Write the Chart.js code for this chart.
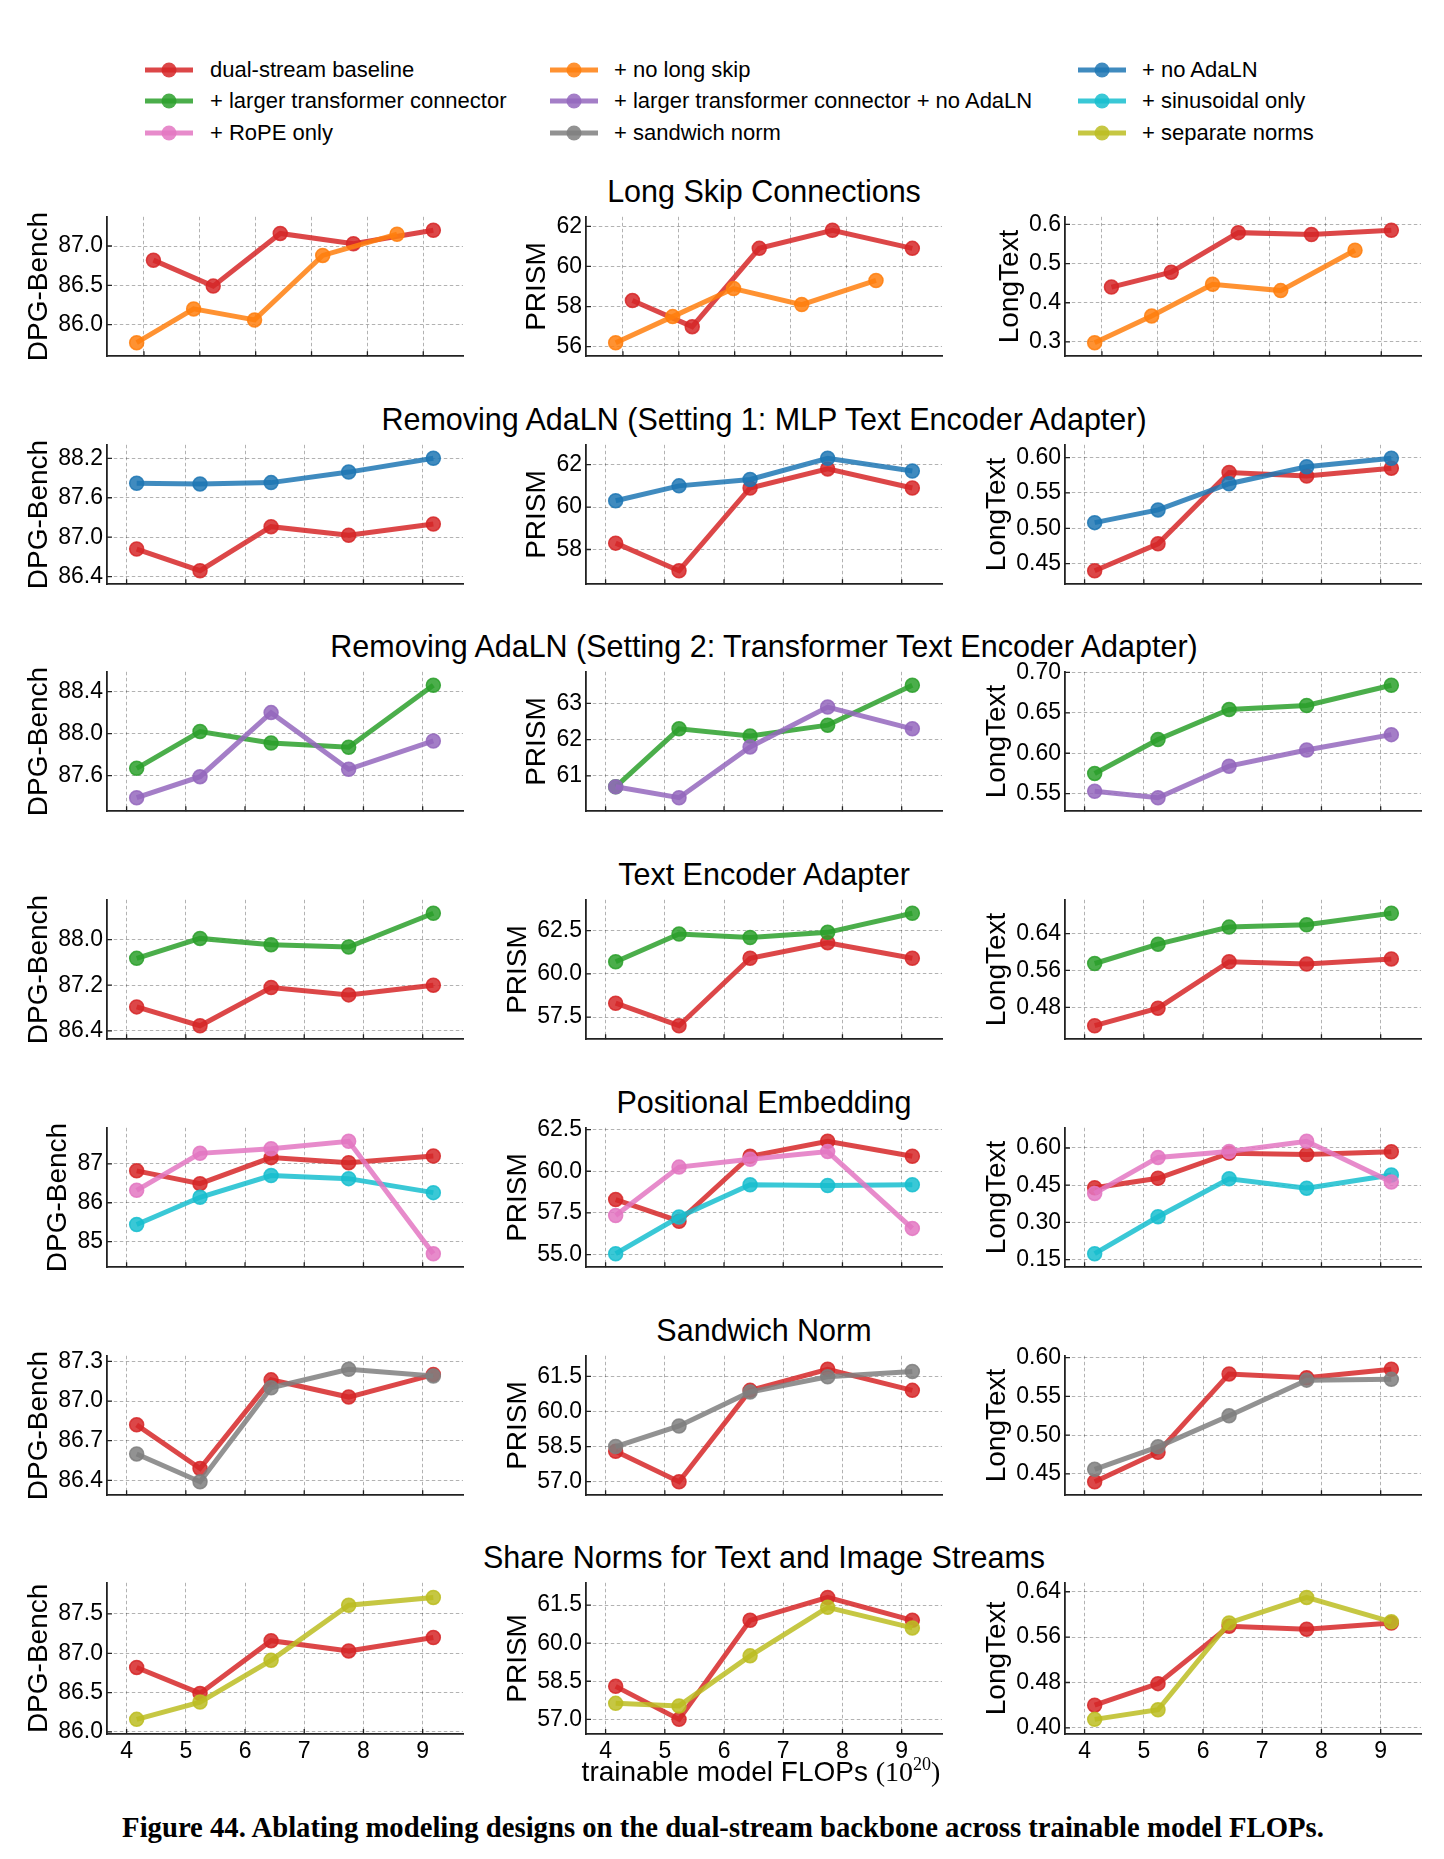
<!DOCTYPE html>
<html>
<head>
<meta charset="utf-8">
<script src="https://cdn.jsdelivr.net/npm/chart.js@4.4.1/dist/chart.umd.min.js"></script>
<style>
  body { margin: 0; background: #fff; }
  #fig { position: relative; width: 1444px; height: 1859px; overflow: hidden;
         font-family: "Liberation Sans", Arial, sans-serif; color: #000; }
  #fig canvas { position: absolute; }
  .rowTitle { position: absolute; font-size: 30.5px; white-space: nowrap; transform: translate(-50%, -50%); }
  .legText { position: absolute; font-size: 22px; white-space: nowrap; transform: translateY(-50%); }
  .legLine { position: absolute; width: 48px; height: 5px; transform: translateY(-50%); }
  .legDot { position: absolute; width: 15px; height: 15px; border-radius: 50%; transform: translate(-50%, -50%); }
  #xlabel { position: absolute; font-size: 28px; white-space: nowrap; transform: translate(-50%, -50%); }
  #xlabel .tex { font-family: "Liberation Serif", "DejaVu Serif", serif; }
  #xlabel sup { font-size: 18px; vertical-align: 11px; line-height: 0; }
  #caption { position: absolute; font-family: "Liberation Serif", "DejaVu Serif", serif; font-weight: bold;
             font-size: 26px; white-space: nowrap; transform: translate(-50%, -50%); }
</style>
</head>
<body>
<div id="fig"></div>
<script>
// x positions (trainable model FLOPs, 1e20)
const flops = [4.17, 5.24, 6.44, 7.75, 9.18];
const flopsNoLongSkip = [3.87, 4.89, 5.98, 7.20, 8.53];
const xTicks = [4, 5, 6, 7, 8, 9];

// dual-stream baseline
const baselineDPG = [86.82, 86.49, 87.16, 87.03, 87.20];
const baselinePRISM = [58.3, 57.0, 60.9, 61.8, 60.9];
const baselineLongText = [0.440, 0.478, 0.579, 0.574, 0.585];
// + no long skip
const noLongSkipDPG = [85.77, 86.20, 86.06, 86.88, 87.15];
const noLongSkipPRISM = [56.2, 57.5, 58.9, 58.1, 59.3];
const noLongSkipLongText = [0.298, 0.366, 0.447, 0.431, 0.534];
// + no AdaLN
const noAdaLNDPG = [87.82, 87.81, 87.83, 87.99, 88.20];
const noAdaLNPRISM = [60.3, 61.0, 61.3, 62.3, 61.7];
const noAdaLNLongText = [0.508, 0.526, 0.563, 0.587, 0.599];
// + larger transformer connector
const largerDPG = [87.67, 88.02, 87.91, 87.87, 88.46];
const largerPRISM = [60.7, 62.3, 62.1, 62.4, 63.5];
const largerLongText = [0.575, 0.617, 0.654, 0.659, 0.684];
// + larger transformer connector + no AdaLN
const largerNoAdaLNDPG = [87.39, 87.59, 88.20, 87.66, 87.93];
const largerNoAdaLNPRISM = [60.7, 60.4, 61.8, 62.9, 62.3];
const largerNoAdaLNLongText = [0.553, 0.545, 0.584, 0.604, 0.623];
// + sinusoidal only
const sinusoidalDPG = [85.44, 86.14, 86.70, 86.62, 86.26];
const sinusoidalPRISM = [55.05, 57.25, 59.19, 59.14, 59.19];
const sinusoidalLongText = [0.174, 0.323, 0.476, 0.438, 0.491];
// + RoPE only
const ropeDPG = [86.32, 87.27, 87.39, 87.58, 84.69];
const ropePRISM = [57.34, 60.25, 60.72, 61.18, 56.57];
const ropeLongText = [0.417, 0.562, 0.586, 0.627, 0.463];
// + sandwich norm
const sandwichDPG = [86.60, 86.39, 87.10, 87.24, 87.19];
const sandwichPRISM = [58.5, 59.38, 60.83, 61.48, 61.71];
const sandwichLongText = [0.456, 0.485, 0.525, 0.571, 0.572];
// + separate norms
const separateDPG = [86.16, 86.38, 86.91, 87.61, 87.71];
const separatePRISM = [57.63, 57.53, 59.50, 61.41, 60.60];
const separateLongText = [0.415, 0.432, 0.585, 0.630, 0.587];

// y tick labels, one list per row
const dpgTicks = [
  ['86.0', '86.5', '87.0'], ['86.4', '87.0', '87.6', '88.2'], ['87.6', '88.0', '88.4'],
  ['86.4', '87.2', '88.0'], ['85', '86', '87'], ['86.4', '86.7', '87.0', '87.3'],
  ['86.0', '86.5', '87.0', '87.5']];
const prismTicks = [
  ['56', '58', '60', '62'], ['58', '60', '62'], ['61', '62', '63'],
  ['57.5', '60.0', '62.5'], ['55.0', '57.5', '60.0', '62.5'], ['57.0', '58.5', '60.0', '61.5'],
  ['57.0', '58.5', '60.0', '61.5']];
const longTextTicks = [
  ['0.3', '0.4', '0.5', '0.6'], ['0.45', '0.50', '0.55', '0.60'], ['0.55', '0.60', '0.65', '0.70'],
  ['0.48', '0.56', '0.64'], ['0.15', '0.30', '0.45', '0.60'], ['0.45', '0.50', '0.55', '0.60'],
  ['0.40', '0.48', '0.56', '0.64']];

const rowTitles = [
  'Long Skip Connections',
  'Removing AdaLN (Setting 1: MLP Text Encoder Adapter)',
  'Removing AdaLN (Setting 2: Transformer Text Encoder Adapter)',
  'Text Encoder Adapter',
  'Positional Embedding',
  'Sandwich Norm',
  'Share Norms for Text and Image Streams'];
const metricTitles = ['DPG-Bench', 'PRISM', 'LongText'];

const series = {
  baseline:      { label: 'dual-stream baseline', rgb: '214,39,40', x: flops, v: [baselineDPG, baselinePRISM, baselineLongText] },
  noLongSkip:    { label: '+ no long skip', rgb: '255,127,14', x: flopsNoLongSkip, v: [noLongSkipDPG, noLongSkipPRISM, noLongSkipLongText] },
  noAdaLN:       { label: '+ no AdaLN', rgb: '31,119,180', x: flops, v: [noAdaLNDPG, noAdaLNPRISM, noAdaLNLongText] },
  larger:        { label: '+ larger transformer connector', rgb: '44,160,44', x: flops, v: [largerDPG, largerPRISM, largerLongText] },
  largerNoAdaLN: { label: '+ larger transformer connector + no AdaLN', rgb: '148,103,189', x: flops, v: [largerNoAdaLNDPG, largerNoAdaLNPRISM, largerNoAdaLNLongText] },
  sinusoidal:    { label: '+ sinusoidal only', rgb: '23,190,207', x: flops, v: [sinusoidalDPG, sinusoidalPRISM, sinusoidalLongText] },
  rope:          { label: '+ RoPE only', rgb: '227,119,194', x: flops, v: [ropeDPG, ropePRISM, ropeLongText] },
  sandwich:      { label: '+ sandwich norm', rgb: '127,127,127', x: flops, v: [sandwichDPG, sandwichPRISM, sandwichLongText] },
  separate:      { label: '+ separate norms', rgb: '188,189,34', x: flops, v: [separateDPG, separatePRISM, separateLongText] }
};
const rowSeries = [
  ['baseline', 'noLongSkip'],
  ['baseline', 'noAdaLN'],
  ['larger', 'largerNoAdaLN'],
  ['baseline', 'larger'],
  ['baseline', 'sinusoidal', 'rope'],
  ['baseline', 'sandwich'],
  ['baseline', 'separate']];
const legendOrder = ['baseline', 'noLongSkip', 'noAdaLN', 'larger', 'largerNoAdaLN', 'sinusoidal', 'rope', 'sandwich', 'separate'];

// layout
const colLeft = [107, 586, 1065];
const plotW = 356, plotH = 157;
const rowTop0 = 211, rowGap = 227.7;
const yAxisW = 105, padTop = 12, padRight = 14;
const ALPHA = 0.85;
const TICK_FONT = 23;
const fig = document.getElementById('fig');
Chart.defaults.font.family = "'Liberation Sans', Arial, sans-serif";
Chart.defaults.color = '#000';

// small inward tick marks on the two spines
const innerTicks = {
  id: 'innerTicks',
  beforeDatasetsDraw(chart) {
    const { ctx, chartArea: a, scales: { x, y } } = chart;
    ctx.save();
    ctx.strokeStyle = '#222';
    ctx.lineWidth = 1.3;
    ctx.beginPath();
    x.ticks.forEach(t => { const px = x.getPixelForValue(t.value); ctx.moveTo(px, a.bottom); ctx.lineTo(px, a.bottom - 5); });
    y.ticks.forEach(t => { const py = y.getPixelForValue(t.value); ctx.moveTo(a.left, py); ctx.lineTo(a.left + 5, py); });
    ctx.stroke();
    ctx.restore();
  }
};

// y label placed just left of the widest tick label (like matplotlib)
const yTitle = {
  id: 'yTitle',
  afterDraw(chart, args, opts) {
    const { ctx, chartArea: a, scales: { y } } = chart;
    ctx.save();
    ctx.font = TICK_FONT + "px 'Liberation Sans', Arial, sans-serif";
    const w = Math.max(...y.ticks.map(t => ctx.measureText(t.label).width));
    const xb = a.left - 4 - w - 11;
    ctx.translate(xb, (a.top + a.bottom) / 2);
    ctx.rotate(-Math.PI / 2);
    ctx.font = "28px 'Liberation Sans', Arial, sans-serif";
    ctx.textAlign = 'center';
    ctx.textBaseline = 'alphabetic';
    ctx.fillStyle = '#000';
    ctx.fillText(opts.text, 0, 0);
    ctx.restore();
  }
};

function extent(arrs, frac) {
  const all = arrs.flat();
  const lo = Math.min(...all), hi = Math.max(...all);
  const m = (hi - lo) * frac;
  return [lo - m, hi + m];
}

const tickSets = [dpgTicks, prismTicks, longTextTicks];

rowSeries.forEach((keys, r) => {
  const top = rowTop0 + r * rowGap;
  const isBottom = r === rowSeries.length - 1;
  const hx = isBottom ? 45 : 6;

  const t = document.createElement('div');
  t.className = 'rowTitle';
  t.textContent = rowTitles[r];
  t.style.left = (colLeft[1] + plotW / 2) + 'px';
  t.style.top = (top - 20) + 'px';
  fig.appendChild(t);

  const [xmin, xmax] = extent(keys.map(k => series[k].x), 0.10);

  for (let c = 0; c < 3; c++) {
    const labels = tickSets[c][r];
    const [ymin, ymax] = extent(keys.map(k => series[k].v[c]), 0.12);
    const cv = document.createElement('canvas');
    const cw = yAxisW + plotW + padRight, ch = padTop + plotH + hx;
    cv.width = cw; cv.height = ch;
    cv.style.left = (colLeft[c] - yAxisW) + 'px';
    cv.style.top = (top - padTop) + 'px';
    cv.style.width = cw + 'px'; cv.style.height = ch + 'px';
    fig.appendChild(cv);

    const datasets = keys.map((k, i) => {
      const s = series[k];
      const col = 'rgba(' + s.rgb + ',' + ALPHA + ')';
      return {
        label: s.label,
        data: s.x.map((x, j) => ({ x: x, y: s.v[c][j] })),
        borderColor: col, backgroundColor: col,
        pointBackgroundColor: col, pointBorderColor: col, pointBorderWidth: 1.5,
        pointRadius: 7, borderWidth: 5, tension: 0, clip: false,
        order: keys.length - i
      };
    });

    new Chart(cv, {
      type: 'line',
      data: { datasets },
      options: {
        responsive: false, animation: false, devicePixelRatio: 1,
        layout: { padding: { left: 0, top: padTop, right: padRight, bottom: 0 } },
        plugins: { legend: { display: false }, tooltip: { enabled: false }, yTitle: { text: metricTitles[c] } },
        scales: {
          x: {
            type: 'linear', min: xmin, max: xmax,
            afterBuildTicks: s => { s.ticks = xTicks.map(v => ({ value: v })); },
            afterFit: s => { s.height = hx; },
            grid: { color: 'rgba(0,0,0,0.3)', lineWidth: 1, drawTicks: false },
            border: { color: '#222', width: 1.8, dash: [3.5, 2.5] },
            ticks: { display: isBottom, padding: 4, autoSkip: false, maxRotation: 0, font: { size: TICK_FONT }, color: '#000',
                     callback: v => String(v) }
          },
          y: {
            min: ymin, max: ymax,
            afterBuildTicks: s => { s.ticks = labels.map(l => ({ value: parseFloat(l) })); },
            afterFit: s => { s.width = yAxisW; },
            grid: { color: 'rgba(0,0,0,0.3)', lineWidth: 1, drawTicks: false },
            border: { color: '#222', width: 1.8, dash: [3.5, 2.5] },
            ticks: { padding: 4, autoSkip: false, font: { size: TICK_FONT }, color: '#000',
                     callback: (v, i) => labels[i] }
          }
        }
      },
      plugins: [innerTicks, yTitle]
    });
  }
});

// legend (3 columns, row-major)
const legX = [145, 550, 1078];
const legTextX = [210, 614, 1142];
const legY = [69.5, 101, 132.5];
legendOrder.forEach((k, i) => {
  const s = series[k];
  const col = 'rgba(' + s.rgb + ',' + ALPHA + ')';
  const cI = i % 3, rI = Math.floor(i / 3);
  const ln = document.createElement('div');
  ln.className = 'legLine';
  ln.style.left = legX[cI] + 'px'; ln.style.top = legY[rI] + 'px'; ln.style.background = col;
  fig.appendChild(ln);
  const dot = document.createElement('div');
  dot.className = 'legDot';
  dot.style.left = (legX[cI] + 24) + 'px'; dot.style.top = legY[rI] + 'px'; dot.style.background = col;
  fig.appendChild(dot);
  const tx = document.createElement('div');
  tx.className = 'legText';
  tx.textContent = s.label;
  tx.style.left = legTextX[cI] + 'px'; tx.style.top = legY[rI] + 'px';
  fig.appendChild(tx);
});

// x axis title
const xl = document.createElement('div');
xl.id = 'xlabel';
xl.innerHTML = 'trainable model FLOPs <span class="tex">(10<sup>20</sup>)</span>';
xl.style.left = '761px'; xl.style.top = '1772px';
fig.appendChild(xl);

// caption, fitted to the reference width
const cap = document.createElement('div');
cap.id = 'caption';
cap.textContent = 'Figure 44. Ablating modeling designs on the dual-stream backbone across trainable model FLOPs.';
cap.style.left = '723px'; cap.style.top = '1827px';
fig.appendChild(cap);
const capW = cap.getBoundingClientRect().width;
cap.style.fontSize = (26 * 1202 / capW).toFixed(2) + 'px';
</script>
</body>
</html>
